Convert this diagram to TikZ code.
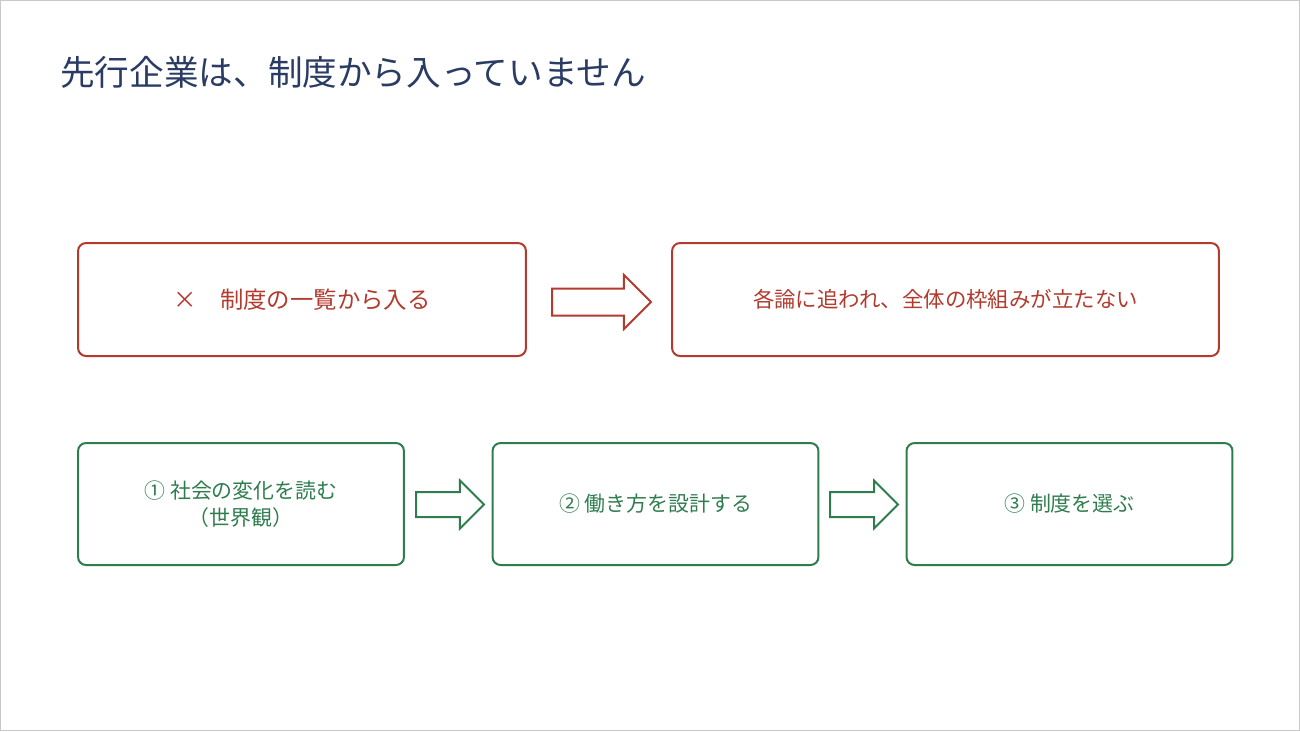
\documentclass[tikz,border=0pt]{standalone}
\usepackage{fontspec}
\setmainfont{Noto Sans CJK JP}
\usetikzlibrary{shapes.arrows}
\definecolor{navy}{HTML}{2A3C64}
\definecolor{boxred}{HTML}{B23B2E}
\definecolor{boxgreen}{HTML}{2F7D4F}
\definecolor{frame}{HTML}{C8C8C8}

\begin{document}
\begin{tikzpicture}[x=0.02cm,y=-0.02cm,
  title node/.style={anchor=west,inner sep=0pt,text=navy,font=\fontsize{19.7}{23}\selectfont},
  red box/.style={rectangle,rounded corners=0.16cm,draw=boxred,line width=0.04cm,text=boxred,
    minimum height=2.26cm,font=\fontsize{13.3}{16}\selectfont},
  green box/.style={rectangle,rounded corners=0.16cm,draw=boxgreen,line width=0.04cm,text=boxgreen,
    minimum width=6.52cm,minimum height=2.44cm,align=center,font=\fontsize{11.9}{15.3}\selectfont},
  red arrow/.style={single arrow,anchor=tail,draw=boxred,line width=0.04cm,inner sep=0pt,inner ysep=0.25cm,
    minimum height=1.98cm,single arrow head extend=0.27cm},
  green arrow/.style={single arrow,anchor=tail,draw=boxgreen,line width=0.04cm,inner sep=0pt,inner ysep=0.23cm,
    minimum height=1.36cm,single arrow head extend=0.23cm}]

  \useasboundingbox (0,0) rectangle (1300,731);
  \draw[frame,line width=0.02cm] (0.5,0.5) rectangle (1299.5,730.5);

  \node[title node] (title) at (60,72) {先行企業は、制度から入っていません};

  \node[red box,minimum width=8.96cm] (r1) at (302,299.5) {×　制度の一覧から入る};
  \node[red box,minimum width=10.94cm,font=\fontsize{12.2}{15}\selectfont] (r2) at (945.5,299.5) {各論に追われ、全体の枠組みが立たない};
  \node[red arrow] (ra) at (551,302) {};

  \node[green box] (g1) at (241,504) {① 社会の変化を読む\\（世界観）};
  \node[green box] (g2) at (655.5,504) {② 働き方を設計する};
  \node[green box] (g3) at (1069.5,504) {③ 制度を選ぶ};
  \node[green arrow] (ga1) at (415,504.5) {};
  \node[green arrow] (ga2) at (829,504.5) {};
\end{tikzpicture}
\end{document}
